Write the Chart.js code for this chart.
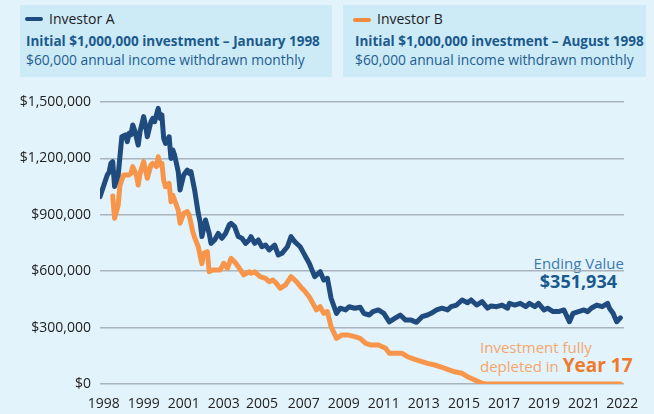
<!DOCTYPE html>
<html>
<head>
<meta charset="utf-8">
<script src="https://cdn.jsdelivr.net/npm/chart.js@4.4.0/dist/chart.umd.min.js"></script>
<style>
  body { margin: 0; background: #e3f3fb; font-family: "Open Sans", sans-serif; }
  #wrap { position: relative; width: 654px; height: 414px; overflow: hidden; }
  #chart { position: absolute; left: 0; top: 0; }
  .box { position: absolute; top: 5px; height: 72px; background: #cdeaf7; }
  .t { position: absolute; white-space: nowrap; line-height: 18px; }
  .swatch { position: absolute; height: 4px; width: 18px; border-radius: 2px; }
  .name { font-size: 14px; color: #222; }
  .bold { font-size: 13.5px; font-weight: 700; color: #1b5a8c; }
  .sub { font-size: 13.8px; color: #1d5e92; }
</style>
</head>
<body>
<div id="wrap">
  <div class="box" style="left:20px; width:312px;"></div>
  <div class="box" style="left:343px; width:303px;"></div>

  <div class="swatch" style="left:25px; top:17px; background:#1f4b7f;"></div>
  <div class="t name" style="left:49px; top:10px;">Investor A</div>
  <div class="t bold" style="left:26px; top:32px;">Initial $1,000,000 investment – January 1998</div>
  <div class="t sub" style="left:26px; top:51px;">$60,000 annual income withdrawn monthly</div>

  <div class="swatch" style="left:353px; top:18px; background:#f08a3c;"></div>
  <div class="t name" style="left:377px; top:10px;">Investor B</div>
  <div class="t bold" style="left:355px; top:32px;">Initial $1,000,000 investment – August 1998</div>
  <div class="t sub" style="left:355px; top:51px;">$60,000 annual income withdrawn monthly</div>

  <div class="t" style="right:30px; top:254px; font-size:15px; color:#3b7bb0;">Ending Value</div>
  <div class="t" style="right:37px; top:270px; font-size:18px; font-weight:700; color:#19598d; line-height:22px;">$351,934</div>
  <div class="t" style="left:480px; top:338px; font-size:15px; color:#f5a66c;">Investment fully</div>
  <div class="t" style="left:480px; top:354px; font-size:15px; color:#f5a66c; line-height:22px;">depleted in <span style="font-size:19px; font-weight:700; color:#ee7a2c;">Year 17</span></div>

  <canvas id="chart" width="654" height="414"></canvas>
</div>
<script>
// months counted from January 1998
const monthsA = [0, 4, 5, 6, 7, 8, 10, 12, 14, 15, 16, 17, 18, 19, 21, 22, 24, 25, 26, 28, 29, 30, 32, 33, 34, 35, 36, 38, 39, 40, 41, 43, 44, 46, 48, 49, 50, 52, 54, 55, 56, 58, 60, 61, 63, 65, 67, 69, 71, 72, 74, 76, 78, 80, 82, 83, 85, 87, 89, 91, 93, 96, 98, 100, 103, 105, 107, 110, 112, 113, 115, 118, 121, 123, 125, 127, 130, 132, 135, 137, 140, 143, 145, 148, 150, 153, 156, 159, 162, 165, 168, 171, 174, 177, 180, 182, 185, 188, 191, 193, 196, 199, 202, 204, 207, 210, 213, 215, 218, 221, 224, 225, 228, 231, 234, 236, 239, 241, 244, 246, 249, 252, 255, 258, 260, 263, 266, 268, 270, 273, 276, 279, 280, 282, 284, 286];
const valuesA = [996, 1112, 1126, 1174, 1183, 1050, 1112, 1315, 1325, 1289, 1334, 1325, 1378, 1351, 1271, 1342, 1422, 1378, 1315, 1395, 1413, 1395, 1466, 1413, 1431, 1307, 1280, 1315, 1200, 1245, 1218, 1129, 1032, 1112, 1138, 1120, 1129, 1032, 908, 863, 784, 872, 801, 748, 766, 801, 775, 801, 846, 855, 837, 784, 775, 748, 766, 784, 748, 766, 730, 739, 713, 739, 686, 695, 730, 784, 757, 730, 695, 677, 642, 571, 597, 553, 562, 456, 376, 403, 394, 411, 403, 408, 376, 367, 385, 394, 376, 331, 349, 367, 340, 340, 328, 358, 367, 376, 394, 403, 394, 411, 420, 447, 432, 447, 420, 438, 403, 415, 411, 420, 403, 429, 420, 429, 411, 429, 411, 429, 394, 403, 385, 385, 394, 331, 376, 385, 394, 385, 403, 420, 411, 429, 403, 376, 331, 352];

const monthsB = [7, 8, 10, 11, 13, 16, 17, 18, 20, 21, 22, 24, 26, 28, 29, 31, 32, 33, 34, 35, 36, 38, 39, 40, 43, 44, 46, 48, 49, 51, 52, 54, 56, 57, 59, 60, 62, 66, 68, 70, 72, 74, 76, 79, 82, 83, 85, 88, 91, 93, 95, 97, 99, 102, 105, 108, 111, 112, 115, 117, 119, 121, 123, 125, 127, 130, 133, 136, 140, 143, 146, 149, 153, 157, 159, 163, 166, 169, 173, 177, 180, 184, 188, 191, 195, 199, 202, 206, 210, 212, 286];
const valuesB = [1000, 881, 952, 1058, 1112, 1112, 1120, 1156, 1112, 1058, 1120, 1183, 1094, 1165, 1174, 1156, 1209, 1165, 1174, 1085, 1049, 1067, 970, 1005, 925, 855, 908, 917, 899, 810, 780, 730, 640, 695, 704, 597, 606, 606, 642, 615, 668, 650, 624, 580, 597, 589, 597, 571, 562, 544, 553, 535, 509, 527, 571, 544, 509, 500, 464, 429, 394, 411, 376, 385, 305, 243, 261, 261, 252, 243, 216, 207, 207, 190, 163, 163, 163, 145, 131, 119, 110, 101, 89, 78, 65, 57, 39, 21, 4, 0, 0];

const tickMonths = [2, 24, 46, 68, 89, 112, 134, 156, 178, 200, 222, 244, 266, 287];
const tickLabels = ['1998', '1999', '2001', '2003', '2005', '2007', '2009', '2011', '2013', '2015', '2017', '2019', '2021', '2022'];

const BLUE = '#1f4b7f';
const ORANGE = '#f7964a';
const FONT = '"Open Sans", sans-serif';

function toPoints(months, values) {
    return months.map((m, i) => ({ x: m, y: values[i] * 1000 }));
}

new Chart(document.getElementById('chart'), {
    type: 'line',
    data: {
        datasets: [
            {
                label: 'Investor A',
                data: toPoints(monthsA, valuesA),
                borderColor: BLUE,
                borderWidth: 5,
                pointRadius: 0,
                borderJoinStyle: 'round',
                borderCapStyle: 'round'
            },
            {
                label: 'Investor B',
                data: toPoints(monthsB, valuesB),
                borderColor: ORANGE,
                borderWidth: 5,
                pointRadius: 0,
                borderJoinStyle: 'round',
                borderCapStyle: 'round'
            }
        ]
    },
    options: {
        responsive: false,
        animation: false,
        layout: { padding: { top: 102, right: 30, left: 0, bottom: 0 } },
        plugins: {
            legend: { display: false },
            tooltip: { enabled: false }
        },
        scales: {
            x: {
                type: 'linear',
                min: 0,
                max: 288,
                grid: { display: false, drawTicks: false },
                border: { display: false },
                afterBuildTicks: function(axis) {
                    axis.ticks = tickMonths.map(v => ({ value: v }));
                },
                afterFit: function(axis) { axis.height = 30; },
                ticks: {
                    autoSkip: false,
                    maxRotation: 0,
                    padding: 12,
                    color: '#222',
                    font: { family: FONT, size: 14 },
                    callback: function(value, index) { return tickLabels[index]; }
                }
            },
            y: {
                min: 0,
                max: 1500000,
                grid: { color: '#a9b4bd', lineWidth: 1.5, drawTicks: false },
                border: { display: false },
                afterFit: function(axis) { axis.width = 100; },
                ticks: {
                    stepSize: 300000,
                    padding: 9,
                    color: '#222',
                    font: { family: FONT, size: 14 },
                    callback: function(value) { return '$' + value.toLocaleString('en-US'); }
                }
            }
        }
    }
});
</script>
</body>
</html>
